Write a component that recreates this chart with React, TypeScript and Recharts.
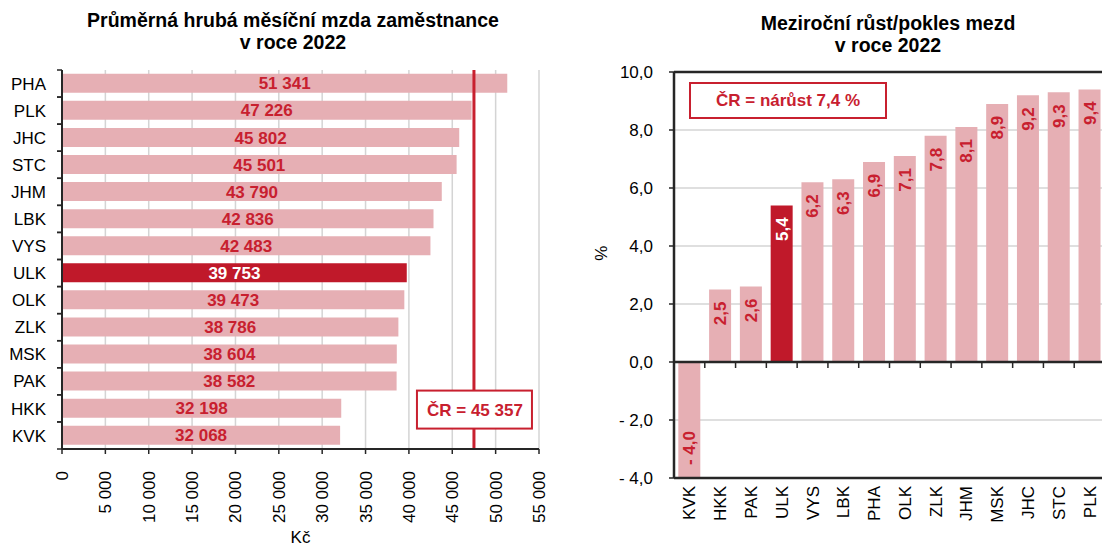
import React from 'react'
import { BarChart, Bar, XAxis, YAxis, CartesianGrid, Cell, LabelList, ReferenceLine, Label } from 'recharts'

// left chart: average gross monthly wage by region, 2022
const wageRegions = ['PHA', 'PLK', 'JHC', 'STC', 'JHM', 'LBK', 'VYS', 'ULK', 'OLK', 'ZLK', 'MSK', 'PAK', 'HKK', 'KVK']
const wages = [51341, 47226, 45802, 45501, 43790, 42836, 42483, 39753, 39473, 38786, 38604, 38582, 32198, 32068]
const wageTicks = [0, 5000, 10000, 15000, 20000, 25000, 30000, 35000, 40000, 45000, 50000, 55000]
const wageLinePos = 47500 // where the CR line sits in the picture
const wageCrLabel = 'ČR = 45 357'

// right chart: year-on-year change, %
const growthRegions = ['KVK', 'HKK', 'PAK', 'ULK', 'VYS', 'LBK', 'PHA', 'OLK', 'ZLK', 'JHM', 'MSK', 'JHC', 'STC', 'PLK']
const growth = [-4.0, 2.5, 2.6, 5.4, 6.2, 6.3, 6.9, 7.1, 7.8, 8.1, 8.9, 9.2, 9.3, 9.4]
const growthTicks = [-4, -2, 0, 2, 4, 6, 8, 10]
const growthCrLabel = 'ČR = nárůst 7,4 %'

const HIGHLIGHT = 'ULK'

const FONT = '"Liberation Sans", Arial, sans-serif'
const PINK = '#e6afb4'
const DARK_RED = '#c0192a'
const RED = '#c8202f'
const AXIS = '#262626'
const GRID = '#d4d4d4'

const wageData = wageRegions.map((region, i) => ({ region, wage: wages[i] }))
const growthData = growthRegions.map((region, i) => ({ region, growth: growth[i] }))

const fmtThousands = (v: number) => String(v).replace(/\B(?=(\d{3})+(?!\d))/g, ' ')
const fmtPct = (v: number) => (v < 0 ? '- ' : '') + Math.abs(v).toFixed(1).replace('.', ',')

const WageTick = ({ x, y, payload }: any) => (
  <text x={x + 6} y={y} transform={`rotate(-90 ${x + 6} ${y})`} textAnchor="end" fontSize={17} fill="#000">
    {fmtThousands(payload.value)}
  </text>
)

const RegionTick = ({ x, y, payload }: any) => {
  const half = payload.offset || 13.55
  const ax = x + 16
  return (
    <g>
      <text x={x} y={y} dy="0.36em" textAnchor="end" fontSize={17} fill="#000">{payload.value}</text>
      <line x1={ax - 5} x2={ax} y1={y - half} y2={y - half} stroke={AXIS} strokeWidth={1.5} />
      <line x1={ax - 5} x2={ax} y1={y + half} y2={y + half} stroke={AXIS} strokeWidth={1.5} />
    </g>
  )
}

const WageLabel = ({ x, y, width, height, value, index }: any) => (
  <text x={x + width / 2} y={y + height / 2} dy="0.36em" textAnchor="middle" fontSize={17} fontWeight="bold"
    fill={wageRegions[index] === HIGHLIGHT ? '#fff' : RED}>
    {fmtThousands(value)}
  </text>
)

const WageCrBox = ({ viewBox }: any) => {
  const cx = viewBox.x
  const cy = viewBox.y + viewBox.height * 0.896
  return (
    <g>
      <rect x={cx - 57} y={cy - 19} width={115} height={38} fill="#fff" stroke={RED} strokeWidth={2} />
      <text x={cx + 1} y={cy} dy="0.36em" textAnchor="middle" fontSize={17} fontWeight="bold" fill={RED}>{wageCrLabel}</text>
    </g>
  )
}

const GrowthTick = ({ x, y, payload }: any) => (
  <text x={x + 6} y={y} transform={`rotate(-90 ${x + 6} ${y})`} textAnchor="end" fontSize={17} fill="#000">
    {payload.value}
  </text>
)

const GrowthLabel = ({ x, y, width, height, value, index }: any) => {
  const top = Math.min(y, y + height)
  const bottom = Math.max(y, y + height)
  const cx = x + width / 2 + 6
  const ty = value >= 0 ? top + 12 : bottom - 13
  return (
    <text x={cx} y={ty} transform={`rotate(-90 ${cx} ${ty})`} textAnchor={value >= 0 ? 'end' : 'start'}
      fontSize={17} fontWeight="bold" fill={growthRegions[index] === HIGHLIGHT ? '#fff' : RED}>
      {fmtPct(value)}
    </text>
  )
}

const ZeroLine = (p: any) => {
  const { x1, x2, y1 } = p
  const step = (x2 - x1) / growthRegions.length
  return (
    <g>
      <line x1={x1} x2={x2} y1={y1} y2={y1} stroke={AXIS} strokeWidth={2.5} />
      {growthRegions.slice(1).map((r, i) => (
        <line key={r} x1={x1 + step * (i + 1)} x2={x1 + step * (i + 1)} y1={y1} y2={y1 + 6} stroke={AXIS} strokeWidth={1.5} />
      ))}
    </g>
  )
}

const titleStyle: React.CSSProperties = {
  position: 'absolute', textAlign: 'center', fontWeight: 'bold', fontSize: 19.5, lineHeight: '22px', color: '#000',
}

export default function App() {
  return (
    <div style={{ position: 'fixed', left: 0, top: 0, width: 1102, height: 546, overflow: 'hidden', background: '#fff', fontFamily: FONT }}>
      <div style={{ ...titleStyle, left: 0, top: 9, width: 586 }}>
        Průměrná hrubá měsíční mzda zaměstnance<br />v roce 2022
      </div>
      <div style={{ ...titleStyle, left: 676, top: 12, width: 424 }}>
        Meziroční růst/pokles mezd<br />v roce 2022
      </div>

      <div style={{ position: 'absolute', left: 0, top: 0 }}>
        <BarChart width={560} height={546} data={wageData} layout="vertical" barCategoryGap="14%"
          margin={{ top: 70, right: 21, left: 0, bottom: 0 }} style={{ fontFamily: FONT }}>
          <CartesianGrid horizontal={false} stroke={GRID} strokeWidth={1.5} />
          <XAxis type="number" domain={[0, 55000]} ticks={wageTicks} height={97} interval={0}
            axisLine={{ stroke: AXIS, strokeWidth: 2 }} tickLine={{ stroke: AXIS, strokeWidth: 1.5 }}
            tickSize={5} tickMargin={17} tick={<WageTick />}>
            <Label value="Kč" position="insideBottom" offset={3} fontSize={17} fill="#000" />
          </XAxis>
          <XAxis xAxisId="top" orientation="top" type="number" domain={[0, 55000]} height={0}
            tick={false} tickLine={false} axisLine={{ stroke: AXIS, strokeWidth: 2 }} />
          <YAxis type="category" dataKey="region" width={62} interval={0}
            axisLine={{ stroke: AXIS, strokeWidth: 2 }} tickLine={false} tickSize={0} tickMargin={16} tick={<RegionTick />} />
          <YAxis yAxisId="right" orientation="right" type="category" dataKey="region" width={0}
            tick={false} tickLine={false} axisLine={{ stroke: AXIS, strokeWidth: 2 }} />
          <Bar dataKey="wage" fill={PINK} isAnimationActive={false}>
            {wageData.map(d => (
              <Cell key={d.region} fill={d.region === HIGHLIGHT ? DARK_RED : PINK} />
            ))}
            <LabelList dataKey="wage" content={<WageLabel />} />
          </Bar>
          <ReferenceLine x={wageLinePos} stroke={RED} strokeWidth={3} label={(p: any) => <WageCrBox {...p} />} />
        </BarChart>
      </div>

      <div style={{ position: 'absolute', left: 560, top: 0 }}>
        <BarChart width={560} height={546} data={growthData} barCategoryGap="14%"
          margin={{ top: 72, right: 15, left: 0, bottom: 0 }} style={{ fontFamily: FONT }}>
          <CartesianGrid vertical={false} stroke={GRID} strokeWidth={1.5} />
          <XAxis dataKey="region" height={68} interval={0} axisLine={{ stroke: AXIS, strokeWidth: 2.5 }}
            tickLine={false} tickSize={0} tickMargin={8} tick={<GrowthTick />} />
          <YAxis domain={[-4, 10]} ticks={growthTicks} width={114} interval={0} allowDataOverflow
            axisLine={{ stroke: AXIS, strokeWidth: 2.5 }} tickLine={{ stroke: AXIS, strokeWidth: 1.5 }} tickSize={5} tickMargin={16}
            tickFormatter={fmtPct} tick={{ fontSize: 17, fill: '#000' }}>
            <Label content={({ viewBox }: any) => {
              const lx = viewBox.x + 47
              const ly = viewBox.y + viewBox.height * 0.446
              return <text x={lx} y={ly} transform={`rotate(-90 ${lx} ${ly})`} textAnchor="middle" fontSize={17} fill="#000">%</text>
            }} />
          </YAxis>
          <ReferenceLine y={10} stroke={AXIS} strokeWidth={2.5} />
          <Bar dataKey="growth" fill={PINK} isAnimationActive={false}>
            {growthData.map(d => (
              <Cell key={d.region} fill={d.region === HIGHLIGHT ? DARK_RED : PINK} />
            ))}
            <LabelList dataKey="growth" content={<GrowthLabel />} />
          </Bar>
          <ReferenceLine y={0} shape={(p: any) => <ZeroLine {...p} />} />
        </BarChart>
      </div>

      <div style={{
        position: 'absolute', left: 689, top: 82, width: 194, height: 33, border: `2px solid ${RED}`, background: '#fff',
        color: RED, fontWeight: 'bold', fontSize: 17, lineHeight: '33px', textAlign: 'center',
      }}>
        {growthCrLabel}
      </div>
    </div>
  )
}
